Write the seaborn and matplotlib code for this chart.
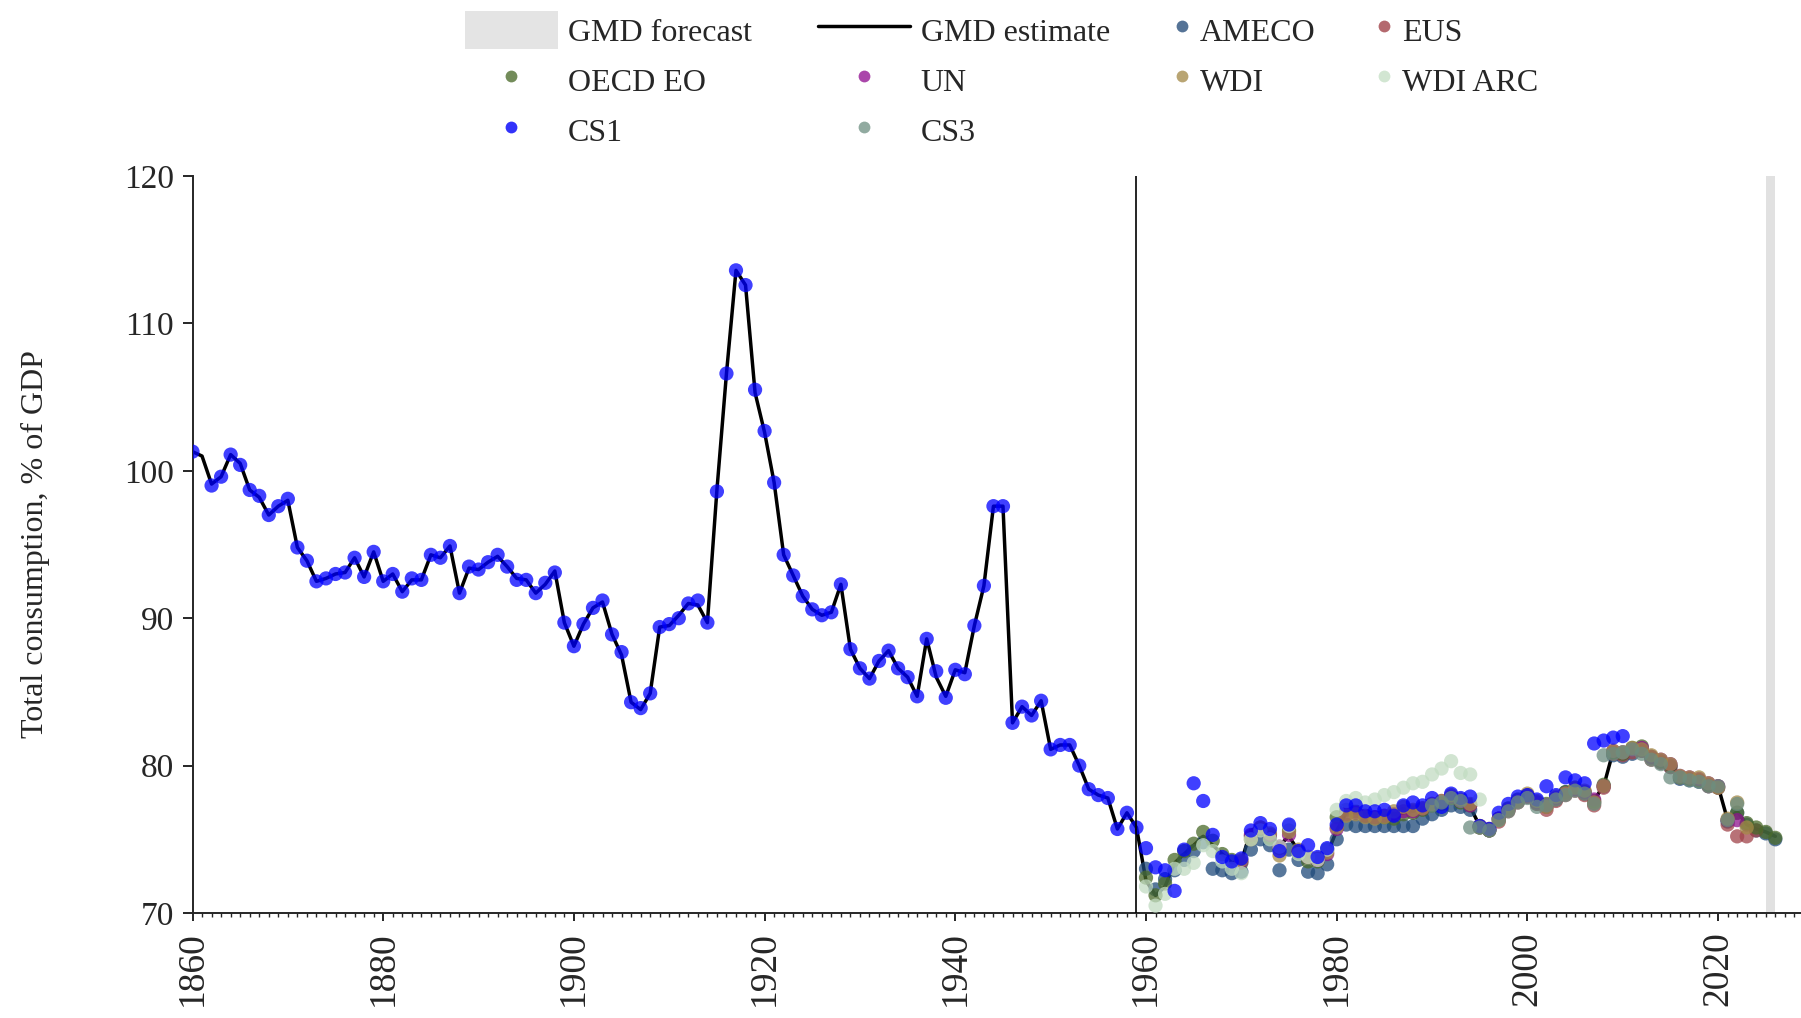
import numpy as np
import pandas as pd
import matplotlib
matplotlib.use("Agg")
import matplotlib.pyplot as plt
import seaborn as sns
from matplotlib.lines import Line2D
from matplotlib.patches import Patch
from matplotlib.ticker import MultipleLocator

# ---------------- data ----------------
gmd_start = 1860
gmd_estimate = [
    101.3, 101.0, 99.1, 99.6, 101.1, 100.5, 98.7, 98.2, 97.0, 97.6,   # 1860s
    98.0, 94.8, 93.9, 92.5, 92.7, 93.0, 93.1, 94.1, 92.8, 94.5,       # 1870s
    92.5, 93.0, 91.8, 92.6, 92.6, 94.3, 94.1, 94.9, 91.7, 93.4,       # 1880s
    93.3, 93.8, 94.2, 93.5, 92.7, 92.6, 91.7, 92.3, 93.2, 89.7,       # 1890s
    88.1, 89.6, 90.7, 91.1, 88.9, 87.5, 84.3, 83.8, 84.9, 89.4,       # 1900s
    89.5, 90.2, 91.0, 90.9, 89.7, 98.7, 106.6, 113.6, 112.6, 105.3,   # 1910s
    102.6, 99.2, 94.3, 92.9, 91.5, 90.6, 90.2, 90.4, 92.3, 87.9,      # 1920s
    86.6, 85.9, 87.1, 87.8, 86.6, 86.0, 84.7, 88.6, 86.0, 84.7,       # 1930s
    86.5, 86.3, 89.5, 92.2, 97.6, 97.6, 82.9, 84.0, 83.4, 84.4,       # 1940s
    81.1, 81.4, 81.4, 80.0, 78.4, 78.0, 77.8, 75.7, 76.8, 75.8,       # 1950s
    72.2, 71.2, 71.8, 73.4, 74.0, 74.6, 75.2, 74.6, 74.0, 73.4,       # 1960s
    73.5, 75.6, 75.9, 75.2, 74.6, 75.2, 74.2, 73.8, 73.6, 74.0,       # 1970s
    75.6, 76.8, 76.8, 76.7, 76.6, 76.6, 76.7, 76.8, 76.9, 77.1,       # 1980s
    77.4, 77.6, 77.9, 77.7, 77.2, 75.9, 75.7, 76.4, 77.0, 77.6,       # 1990s
    77.9, 77.5, 77.3, 77.8, 78.1, 78.4, 78.2, 77.7, 78.6, 81.0,       # 2000s
    80.9, 81.1, 81.2, 80.6, 80.4, 80.1, 79.3, 79.2, 79.1, 78.8,       # 2010s
    78.6, 76.3, 76.9, 76.0, 75.7, 75.5, 75.2,                         # 2020s
]

cs1_start = 1860
cs1 = [
    101.3, np.nan, 99.0, 99.6, 101.1, 100.4, 98.7, 98.3, 97.0, 97.6,
    98.1, 94.8, 93.9, 92.5, 92.7, 93.0, 93.1, 94.1, 92.8, 94.5,
    92.5, 93.0, 91.8, 92.7, 92.6, 94.3, 94.1, 94.9, 91.7, 93.5,
    93.3, 93.8, 94.3, 93.5, 92.6, 92.6, 91.7, 92.4, 93.1, 89.7,
    88.1, 89.6, 90.7, 91.2, 88.9, 87.7, 84.3, 83.9, 84.9, 89.4,
    89.6, 90.0, 91.0, 91.2, 89.7, 98.6, 106.6, 113.6, 112.6, 105.5,
    102.7, 99.2, 94.3, 92.9, 91.5, 90.6, 90.2, 90.4, 92.3, 87.9,
    86.6, 85.9, 87.1, 87.8, 86.6, 86.0, 84.7, 88.6, 86.4, 84.6,
    86.5, 86.2, 89.5, 92.2, 97.6, 97.6, 82.9, 84.0, 83.4, 84.4,
    81.1, 81.4, 81.4, 80.0, 78.4, 78.0, 77.8, 75.7, 76.8, 75.8,
    74.4, 73.1, 72.9, 71.5, 74.3, 78.8, 77.6, 75.3, 73.8, 73.5,
    73.7, 75.6, 76.1, 75.7, 74.2, 76.0, 74.2, 74.6, 73.8, 74.4,
    76.0, 77.3, 77.3, 76.9, 76.9, 77.0, 76.6, 77.3, 77.5, 77.3,
    77.8, 77.2, 78.1, 77.8, 77.9, 75.9, 75.7, 76.8, 77.4, 77.9,
    78.0, 77.7, 78.6, 78.0, 79.2, 79.0, 78.8, 81.5, 81.7, 81.9,
    82.0,
]

ameco_start = 1960
ameco = [
    73.0, 71.6, 72.3, 72.9, 73.6, 74.2, 74.8, 73.0, 72.9, 72.7,
    72.8, 74.3, 75.0, 74.6, 72.9, 74.3, 73.6, 72.8, 72.7, 73.3,
    75.0, 76.0, 75.9, 75.9, 75.9, 75.9, 75.9, 75.9, 75.9, 76.4,
    76.7, 77.0, 77.3, 77.2, 77.0, 75.9, 75.6, 76.4, 77.0, 77.6,
    77.9, 77.4, 77.2, 77.7, 78.2, 78.4, 78.1, 77.5, 78.6, 80.7,
    80.6, 80.8, 81.0, 80.5, 80.2, 79.9, 79.1, 79.0, 78.9, 78.6,
    78.5, 76.2, 76.8, 76.0, 75.6, 75.4, 75.0,
]

eus_start = 1995
eus = [
    75.8, 75.6, 76.2, 76.9, 77.5, 77.9, 77.4, 77.0, 77.6, 78.0,
    78.3, 78.0, 77.3, 78.5, 80.8, 80.7, 80.9, 81.0, 80.4, 80.2,
    79.9, 79.2, 79.1, 79.0, 78.6, 78.5, 76.0, 75.2, 75.2, 75.6,
]

oecd_start = 1960
oecd_eo = [
    72.4, 71.2, 72.0, 73.6, 74.2, 74.7, 75.5, 74.9, 74.0, 73.6,
    73.4, 75.2, 75.7, 75.1, 74.4, 75.6, 74.1, 73.5, 73.5, 74.3,
    76.5, 77.0, 76.9, 76.6, 76.5, 76.5, 76.4, 76.7, 76.8, 77.0,
    77.3, 77.4, 77.8, 77.5, 77.3, 75.8, 75.6, 76.4, 77.1, 77.7,
    78.0, 77.5, 77.4, 77.8, 78.2, 78.5, 78.2, 77.6, 78.7, 80.9,
    80.8, 81.2, 81.3, 80.6, 80.3, 80.0, 79.2, 79.1, 79.0, 78.7,
    78.6, 76.3, 76.8, 76.1, 75.8, 75.5, 75.1,
]

un_start = 1970
un = [
    73.5, 75.3, 75.8, 75.3, 74.5, 75.3, 74.2, 73.8, 73.6, 74.0,
    75.7, 76.7, 76.8, 76.6, 76.5, 76.6, 76.7, 76.9, 76.9, 77.1,
    77.4, 77.6, 77.9, 77.6, 77.3, 75.9, 75.7, 76.4, 77.0, 77.6,
    77.9, 77.5, 77.3, 77.8, 78.1, 78.4, 78.2, 77.7, 78.6, 81.0,
    80.9, 81.1, 81.2, 80.6, 80.4, 80.1, 79.3, 79.2, 79.1, 78.8,
    78.6, 76.3, 76.3,
]

wdi_start = 1970
wdi = [
    73.6, 75.0, 75.8, 75.4, 73.9, 75.5, 74.3, 73.8, 73.7, 74.1,
    75.8, 76.6, 76.7, 76.5, 76.4, 76.5, 76.9, 77.2, 77.0, 77.1,
    77.4, 77.6, 78.0, 77.7, 77.4, 75.9, 75.7, 76.3, 77.0, 77.6,
    78.1, 77.6, 77.2, 77.9, 78.1, 78.5, 78.3, 77.5, 78.6, 81.0,
    80.9, 81.2, 81.1, 80.7, 80.4, 80.1, 79.3, 79.2, 79.2, 78.8,
    78.5, 76.4, 77.5, 75.8,
]

wdi_arc_start = 1960
wdi_arc = [
    71.8, 70.5, 71.3, 73.0, 73.0, 73.4, 74.6, 74.2, 73.5, 73.0,
    72.7, 75.0, 75.6, 75.0, 74.5, 75.9, 74.0, 73.8, 73.6, 74.3,
    77.0, 77.6, 77.8, 77.5, 77.7, 78.0, 78.2, 78.5, 78.8, 78.9,
    79.4, 79.8, 80.3, 79.5, 79.4, 77.7,
]

cs3_start = 1990
cs3 = [
    77.3, 77.5, 77.8, 77.6, 75.8, 75.8, 75.6, 76.3, 76.9, 77.5,
    77.8, 77.2, 77.3, 77.7, 78.0, 78.3, 78.1, 77.4, 80.7, 80.8,
    80.9, 81.1, 80.8, 80.4, 80.1, 79.2, 79.2, 79.0, 78.9, 78.6,
    78.6, 76.3, 77.4,
]

forecast_span = (2025, 2026)
break_year = 1959

source_names = ["AMECO", "EUS", "OECD EO", "UN", "WDI", "WDI ARC", "CS1", "CS3"]
source_colors = {
    "AMECO": "#1f4a7a",
    "EUS": "#a0434a",
    "OECD EO": "#4a6a2a",
    "UN": "#8e128e",
    "WDI": "#a58a48",
    "WDI ARC": "#c2dcc2",
    "CS1": "#0000ff",
    "CS3": "#6c8d80",
}
legend_colors = {
    "AMECO": "#557396",
    "EUS": "#b4696e",
    "OECD EO": "#738c5a",
    "UN": "#aa46aa",
    "WDI": "#b9a573",
    "WDI ARC": "#d2e6d2",
    "CS1": "#3232fa",
    "CS3": "#91aaa0",
}

series = [
    ("AMECO", ameco_start, ameco),
    ("EUS", eus_start, eus),
    ("OECD EO", oecd_start, oecd_eo),
    ("UN", un_start, un),
    ("WDI", wdi_start, wdi),
    ("WDI ARC", wdi_arc_start, wdi_arc),
    ("CS1", cs1_start, cs1),
    ("CS3", cs3_start, cs3),
]

frames = []
for name, start, vals in series:
    frames.append(pd.DataFrame({"year": np.arange(start, start + len(vals)),
                                "value": vals, "source": name}))
df = pd.concat(frames, ignore_index=True).dropna()
gmd_df = pd.DataFrame({"year": np.arange(gmd_start, gmd_start + len(gmd_estimate)),
                       "value": gmd_estimate})

# ---------------- style ----------------
sns.set_theme(style="ticks")
plt.rcParams["font.family"] = ["Liberation Serif", "DejaVu Serif"]
plt.rcParams["axes.linewidth"] = 1.4

W, H = 1801, 1018
fig = plt.figure(figsize=(W / 100, H / 100), dpi=100)
x0, y_bot, y_top = 192.5, 913, 176
ax = fig.add_axes([x0 / W, 1 - y_bot / H, 1 - x0 / W, (y_bot - y_top) / H])

ax.axvspan(*forecast_span, color="#e1e1e1", lw=0, zorder=0)
sns.lineplot(data=gmd_df, x="year", y="value", color="black", lw=2.5,
             ax=ax, zorder=2, estimator=None, sort=False)
sns.scatterplot(data=df, x="year", y="value", hue="source", hue_order=source_names,
                palette=source_colors, s=105, alpha=0.75, linewidth=0,
                legend=False, ax=ax, zorder=3)
ax.axvline(break_year, color="black", lw=1.2, zorder=4)

ax.set_xlim(1860, 1860 + (W - x0) / 9.535)
ax.set_ylim(70, 120)
ax.xaxis.set_major_locator(MultipleLocator(20))
ax.xaxis.set_minor_locator(MultipleLocator(1))
ax.yaxis.set_major_locator(MultipleLocator(10))
ax.tick_params(axis="x", which="major", length=6, width=1.4, labelsize=27,
               labelrotation=90, pad=7, direction="out")
ax.tick_params(axis="x", which="minor", length=3, width=1.0, direction="out")
ax.tick_params(axis="y", which="major", length=7.5, width=1.4, labelsize=24,
               pad=6, direction="out")
ax.set_xlabel("")
ax.set_ylabel("")
sns.despine(ax=ax)

fig.text(35 / W, 1 - 544.5 / H, "Total consumption, % of GDP", rotation=90,
         ha="center", va="center", fontsize=23)

# ---------------- legends ----------------
def dot(name):
    return Line2D([], [], marker="o", ls="", markersize=8.5,
                  markerfacecolor=legend_colors[name], markeredgewidth=0, label=name)

handles_a = [
    Patch(facecolor="#e4e4e4", edgecolor="none", label="GMD forecast"),
    dot("OECD EO"),
    dot("CS1"),
    Line2D([], [], color="black", lw=2.5, label="GMD estimate"),
    dot("UN"),
    dot("CS3"),
]
handles_b = [dot("AMECO"), dot("WDI"), dot("EUS"), dot("WDI ARC")]

common = dict(loc="upper left", frameon=False, fontsize=23, handleheight=1.45,
              labelspacing=0.39, borderpad=0, borderaxespad=0, ncol=2)
fig.legend(handles=handles_a, bbox_to_anchor=(465 / W, 1 - 11 / H),
           handlelength=2.9, handletextpad=0.32, columnspacing=2.06, **common)
fig.legend(handles=handles_b, bbox_to_anchor=(1169 / W, 1 - 11 / H),
           handlelength=0.8, handletextpad=0.16, columnspacing=1.75, **common)

fig.savefig("out.png", dpi=100)
